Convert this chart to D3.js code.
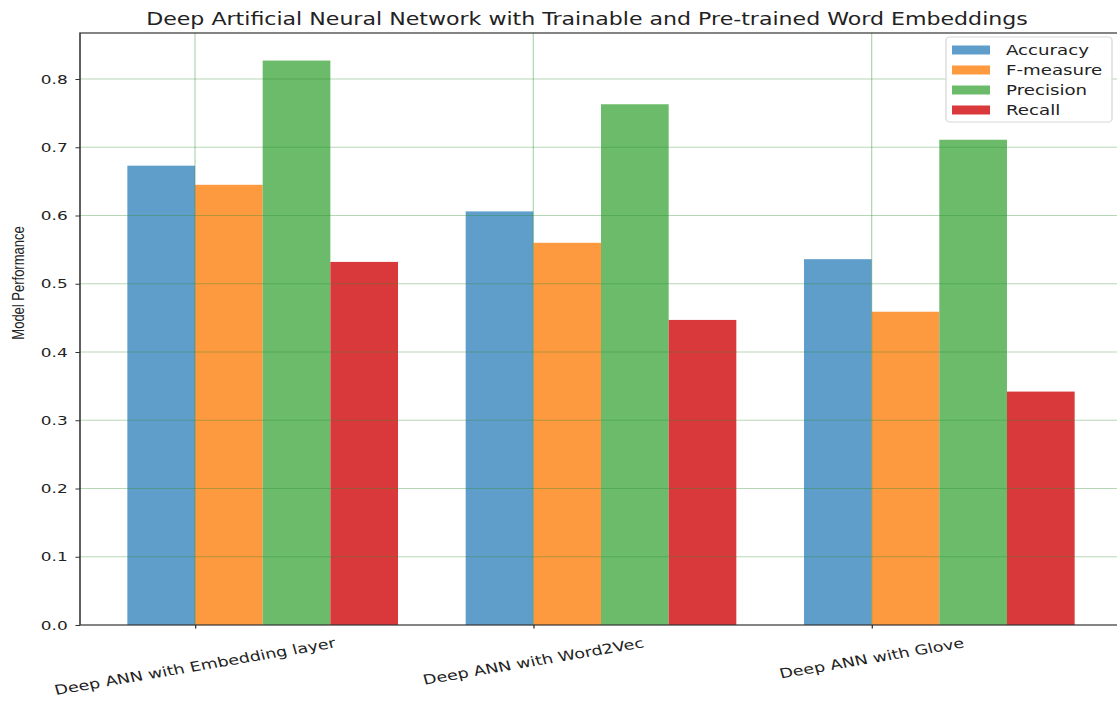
<!DOCTYPE html>
<html>
<head>
<meta charset="utf-8">
<script src="https://cdn.jsdelivr.net/npm/d3@7"></script>
<style>
  html, body { margin: 0; padding: 0; background: #fff; }
  svg { display: block; }
</style>
</head>
<body>
<svg id="chart"></svg>
<script>
// chart values
const categories = ['Deep ANN with Embedding layer', 'Deep ANN with Word2Vec', 'Deep ANN with Glove'];
const metrics = ['Accuracy', 'F-measure', 'Precision', 'Recall'];
const accuracy = [0.673, 0.606, 0.536];
const fMeasure = [0.645, 0.560, 0.459];
const precision = [0.827, 0.763, 0.711];
const recall = [0.532, 0.447, 0.342];
const yTicks = [0.0, 0.1, 0.2, 0.3, 0.4, 0.5, 0.6, 0.7, 0.8];

const series = [accuracy, fMeasure, precision, recall];
const colors = ['#5f9dca', '#fd9a3f', '#6bbb6b', '#d9393b'];

// the picture is stretched sideways, so draw in a narrower box and stretch it
const W = 1117, H = 703, sx = 1.3;
const VW = W / sx;

const svg = d3.select('#chart')
  .attr('width', W)
  .attr('height', H)
  .attr('viewBox', `0 0 ${VW} ${H}`)
  .attr('preserveAspectRatio', 'none');

const axL = 80 / sx, axR = 1122 / sx, axT = 33, axB = 625;
const barW = 0.2;

const xScale = d3.scaleLinear()
  .domain([-0.34, 2.74])
  .range([axL, axR]);

const yScale = d3.scaleLinear()
  .domain([0, 0.8674])
  .range([axB, axT]);

// bars
series.forEach((vals, si) => {
  svg.append('g')
    .selectAll('rect')
    .data(vals)
    .join('rect')
    .attr('x', (d, i) => xScale(i + (si - 1) * barW))
    .attr('width', xScale(barW) - xScale(0))
    .attr('y', d => yScale(d))
    .attr('height', d => yScale(0) - yScale(d))
    .attr('fill', colors[si]);
});

// grid, drawn over the bars like the original
const grid = svg.append('g')
  .attr('stroke', '#2e8b2e')
  .attr('stroke-opacity', 0.35)
  .attr('stroke-width', 1);
grid.selectAll('.hg')
  .data(yTicks.slice(1))
  .join('line')
  .attr('x1', axL).attr('x2', axR)
  .attr('y1', d => yScale(d)).attr('y2', d => yScale(d));
grid.selectAll('.vg')
  .data(categories)
  .join('line')
  .attr('x1', (d, i) => xScale(i)).attr('x2', (d, i) => xScale(i))
  .attr('y1', axT).attr('y2', axB);

// axes
const yAxis = d3.axisLeft(yScale)
  .tickValues(yTicks)
  .tickFormat(d3.format('.1f'))
  .tickSize(3.5)
  .tickPadding(6);
const gy = svg.append('g')
  .attr('transform', `translate(${axL},0)`)
  .call(yAxis);
gy.select('.domain').remove();
gy.selectAll('text')
  .attr('font-family', 'DejaVu Sans')
  .attr('font-size', 13)
  .attr('fill', '#222');
gy.selectAll('line').attr('stroke', '#333');

const xAxis = d3.axisBottom(xScale)
  .tickValues(d3.range(categories.length))
  .tickFormat('')
  .tickSize(3.5);
const gx = svg.append('g')
  .attr('transform', `translate(0,${axB})`)
  .call(xAxis);
gx.select('.domain').remove();
gx.selectAll('line').attr('stroke', '#333');

// frame
svg.append('rect')
  .attr('x', axL).attr('y', axT)
  .attr('width', axR - axL).attr('height', axB - axT)
  .attr('fill', 'none')
  .attr('stroke', '#333')
  .attr('stroke-width', 1.2);

// rotated category labels, tops lined up under the axis
const ang = 12.5, rad = ang * Math.PI / 180;
categories.forEach((c, i) => {
  const t = svg.append('text')
    .text(c)
    .attr('font-family', 'DejaVu Sans')
    .attr('font-size', 13.5)
    .attr('fill', '#222')
    .attr('text-anchor', 'middle')
    .attr('dominant-baseline', 'central');
  const L = t.node().getComputedTextLength();
  const cy = 636 + L * Math.sin(rad) / 2 + 6.5;
  t.attr('transform', `translate(${xScale(i)},${cy}) rotate(${-ang})`);
});

// y label
svg.append('text')
  .text('Model Performance')
  .attr('font-family', 'Liberation Sans')
  .attr('font-size', 13)
  .attr('fill', '#222')
  .attr('text-anchor', 'middle')
  .attr('transform', `translate(${24 / sx},283) rotate(-90)`);

// title
svg.append('text')
  .text('Deep Artificial Neural Network with Trainable and Pre-trained Word Embeddings')
  .attr('font-family', 'DejaVu Sans')
  .attr('font-size', 17)
  .attr('fill', '#222')
  .attr('text-anchor', 'middle')
  .attr('x', 587 / sx)
  .attr('y', 25);

// legend
const lg = svg.append('g');
lg.append('rect')
  .attr('x', 946 / sx).attr('y', 37)
  .attr('width', (1112 - 946) / sx).attr('height', 85)
  .attr('rx', 3)
  .attr('fill', '#fff')
  .attr('fill-opacity', 0.9)
  .attr('stroke', '#d8d8d8');
const items = lg.selectAll('.item')
  .data(metrics)
  .join('g')
  .attr('transform', (d, i) => `translate(0,${50 + i * 20})`);
items.append('rect')
  .attr('x', 952 / sx).attr('y', -4.5)
  .attr('width', 38 / sx).attr('height', 9)
  .attr('fill', (d, i) => colors[i]);
items.append('text')
  .text(d => d)
  .attr('x', 1006 / sx)
  .attr('dominant-baseline', 'central')
  .attr('font-family', 'DejaVu Sans')
  .attr('font-size', 14)
  .attr('fill', '#222');
</script>
</body>
</html>
